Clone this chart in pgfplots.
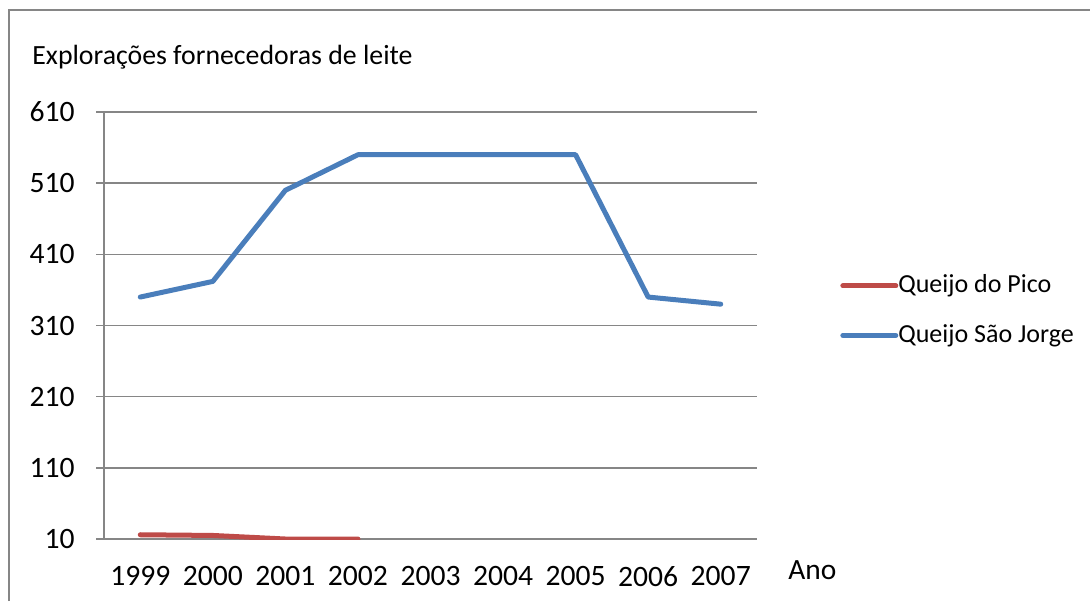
\documentclass[border=0pt]{standalone}
\usepackage{fontspec}
\setmainfont{Carlito}
\usepackage{pgfplots}
\pgfplotsset{compat=1.18}
\definecolor{gridgray}{HTML}{868686}
\definecolor{sjblue}{HTML}{4A7EBB}
\definecolor{picored}{HTML}{BE4B48}
\begin{document}
\fontsize{15pt}{18pt}\selectfont
\begin{tikzpicture}
\useasboundingbox (0,0) rectangle (545pt,-300.5pt);
\draw[gridgray, line width=0.7pt] (4.5pt,-300.5pt) -- (4.5pt,-5pt) -- (545pt,-5pt);
\node[anchor=base west, inner sep=0pt, font=\fontsize{13.9pt}{16pt}\selectfont] at (16pt,-32pt) {Explorações fornecedoras de leite};
\node[anchor=base west, inner sep=0pt, font=\fontsize{14.7pt}{17pt}\selectfont] at (394pt,-289.5pt) {Ano};
\begin{axis}[
  at={(52pt,-269.5pt)}, anchor=south west,
  scale only axis, width=326.5pt, height=213.5pt,
  xmin=-0.5, xmax=8.5, ymin=10, ymax=610,
  axis lines*=left,
  axis line style={gridgray, line width=0.7pt},
  xtick={0,...,8},
  xticklabels={1999,2000,2001,2002,2003,2004,2005,2006,2007},
  minor xtick={-0.5,0.5,...,8.5},
  ytick={10,110,...,610},
  tick align=outside,
  major tick length=4pt, minor tick length=4pt,
  xtick style={draw=none},
  minor tick style={gridgray, line width=0.7pt},
  ytick style={gridgray, line width=0.7pt},
  ymajorgrids,
  major grid style={gridgray, line width=0.7pt},
  /pgf/number format/assume math mode=true,
  yticklabel style={font=\fontsize{14.8pt}{18pt}\selectfont, anchor=east, inner sep=0pt, xshift=-10.5pt},
  xticklabel style={font=\fontsize{14.8pt}{18pt}\selectfont, anchor=north, inner sep=0pt, yshift=-9.5pt},
  legend style={draw=none, fill=none, at={(1.127,0.535)}, anchor=west, inner sep=0pt,
    font=\fontsize{13pt}{16pt}\selectfont, row sep=13.5pt,
    nodes={inner sep=0pt, anchor=west}},
  legend cell align=left,
  legend image code/.code={\draw[#1, line width=2.5pt, line cap=round] (0pt,0pt) -- (26.5pt,0pt);},
]
\addplot[picored, line width=2.5pt, line join=round, line cap=round] coordinates {(0,16) (1,15) (2,10) (3,10)};
\addlegendentry{Queijo do Pico}
\addplot[sjblue, line width=2.5pt, line join=round, line cap=round] coordinates {(0,350) (1,372) (2,500) (3,550) (4,550) (5,550) (6,550) (7,350) (8,340)};
\addlegendentry{Queijo São Jorge}
\end{axis}
\end{tikzpicture}
\end{document}
